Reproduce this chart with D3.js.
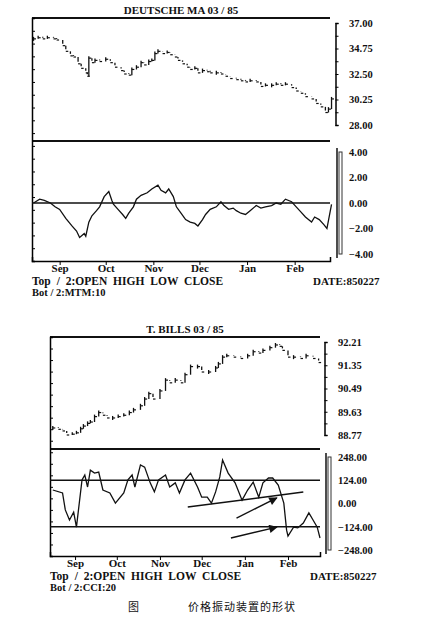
<!DOCTYPE html>
<html><head><meta charset="utf-8">
<script src="https://cdn.jsdelivr.net/npm/d3@7"></script>
<style>
body{margin:0;background:#fff;}
text{font-family:"Liberation Serif",serif;fill:#111;}
</style></head>
<body><svg id="chart"></svg>
<script>
// days counted from 1984-08-14
let dmDays = [1,4,7,10,14,16,20,22,25,27,30,32,35,36,37,39,41,44,48,51,54,58,60,63,65,68,71,73,76,78,80,82,85,88,90,93,95,98,101,103,106,108,111,114,116,120,123,126,129,133,136,139,142,146,149,152,156,159,162,165,169,172,175,178,182,185,188,191,193,195];
let dmClose = [35.6,35.7,35.6,35.7,35.6,35.5,35.0,34.5,34.1,34.0,33.4,33.0,32.6,32.3,33.9,33.5,33.7,33.6,33.8,33.5,33.1,32.8,32.5,32.4,32.9,33.1,33.5,33.3,33.6,33.7,34.3,34.5,34.3,34.4,34.2,34.0,33.7,33.4,33.1,32.9,33.0,32.6,32.8,32.7,32.6,32.6,32.5,32.3,32.1,32.0,31.9,31.8,31.9,31.8,31.4,31.5,31.5,31.6,31.5,31.6,31.3,31.0,30.8,30.5,30.3,29.9,29.6,29.1,29.4,30.3];
let mtmDays = [1,5,8,12,15,18,22,26,29,31,34,35,37,39,42,44,47,50,52,53,56,59,61,63,66,68,71,75,78,82,84,87,89,92,94,97,100,103,106,108,111,113,116,120,123,125,128,131,133,136,139,142,146,149,152,156,159,162,165,169,172,175,178,182,184,187,190,192,195];
let mtmVals = [0,0.3,0.2,0,-0.3,-0.5,-1.2,-1.8,-2.2,-2.7,-2.4,-2.6,-1.5,-1.0,-0.6,-0.3,0.5,0.9,0.2,-0.1,-0.5,-0.9,-1.2,-0.8,-0.3,0.3,0.6,0.8,1.1,1.4,1.0,0.8,1.1,0.5,-0.3,-0.8,-1.3,-1.5,-1.6,-1.8,-1.3,-0.9,-0.5,-0.3,0.1,-0.2,-0.5,-0.4,-0.6,-0.8,-0.9,-0.6,-0.2,-0.4,-0.3,-0.2,0.0,-0.1,0.3,0.1,-0.3,-0.7,-1.1,-1.5,-1.1,-1.3,-1.7,-2.0,-0.1];
let dmTicks = [37.00,34.75,32.50,30.25,28.00];
let mtmTicks = [4,2,0,-2,-4];

let tbDays = [2,6,9,12,16,19,22,24,27,29,32,35,38,41,45,49,53,57,60,65,68,71,74,79,83,86,90,94,97,101,106,109,114,119,121,124,127,132,137,142,146,150,153,158,162,165,167,171,175,180,184,189,193];
let tbClose = [89.03,88.98,88.92,88.77,88.80,88.85,89.0,89.1,89.2,89.25,89.45,89.6,89.5,89.4,89.4,89.45,89.5,89.6,89.7,89.85,90.1,90.3,90.1,90.4,90.8,90.7,90.8,90.7,91.0,91.3,91.3,91.1,91.1,91.25,91.4,91.65,91.7,91.65,91.6,91.7,91.85,91.8,91.9,92.0,92.1,92.05,91.9,91.65,91.65,91.6,91.7,91.6,91.45];
let cciDays = [2,9,11,14,17,19,23,25,27,29,32,35,38,43,47,53,56,59,61,65,68,72,75,78,83,86,90,93,97,101,106,109,113,116,119,122,124,128,133,138,142,146,150,153,157,160,164,168,170,171,175,178,182,186,189,192,194];
let cciVals = [72,56,-34,-88,-46,-126,126,152,88,178,162,168,72,56,2,56,126,152,88,206,194,110,62,126,152,88,110,56,126,162,88,34,34,2,62,142,232,162,110,18,72,114,34,110,136,136,98,2,-142,-174,-126,-130,-104,-50,-88,-126,-184];
let tbTicks = [92.21,91.35,90.49,89.63,88.77];
let cciTicks = [248,124,0,-124,-248];

let months = ["Sep","Oct","Nov","Dec","Jan","Feb"];
let monthDates = [new Date(1984,8,1),new Date(1984,9,1),new Date(1984,10,1),new Date(1984,11,1),new Date(1985,0,1),new Date(1985,1,1)];

let w = 445, h = 620;
let start = new Date(1984,7,14);
let toDate = (d) => new Date(start.getTime() + d * 86400000);

let svg = d3.select("#chart").attr("width", w).attr("height", h);

function panel(o) {
  let g = svg.append("g");
  let x = d3.scaleTime().domain([start, new Date(1985,1,24)]).range([o.x0, o.x1]);
  let yTop = d3.scaleLinear().domain([o.topTicks[4], o.topTicks[0]]).range([o.topB, o.topT]);
  let yBot = d3.scaleLinear().domain([o.botTicks[4], o.botTicks[0]]).range([o.botB, o.botT]);

  g.append("text").attr("x", (o.x0 + o.x1) / 2).attr("y", o.frameTop - 4)
    .attr("text-anchor", "middle").attr("font-size", 11).attr("font-weight", "bold").text(o.title);

  // frame lines
  [o.frameTop, o.divider].forEach(yy => {
    g.append("line").attr("x1", o.x0).attr("x2", o.x1).attr("y1", yy).attr("y2", yy)
      .attr("stroke", "#111").attr("stroke-width", 2);
  });

  // left border with ticks
  let leftAxis = d3.axisLeft(d3.scaleLinear().domain([0, 19]).range([o.frameBot, o.frameTop]))
    .ticks(19).tickSize(-3).tickFormat("");
  g.append("g").attr("transform", `translate(${o.x0},0)`).call(leftAxis)
    .call(a => a.select(".domain").attr("stroke-width", 1.5));

  // right axes
  let rTop = d3.axisRight(yTop).tickValues(o.topTicks).tickSize(0).tickPadding(12).tickFormat(d3.format(".2f"));
  let rBot = d3.axisRight(yBot).tickValues(o.botTicks).tickSize(0).tickPadding(12).tickFormat(d3.format(".2f"));
  let minorTop = d3.axisRight(yTop).tickValues(d3.range(9).map(i => o.topTicks[4] + i * (o.topTicks[0] - o.topTicks[4]) / 8)).tickSize(3).tickFormat("");
  [rTop, rBot].forEach((ax, i) => {
    let a = g.append("g").attr("transform", `translate(${o.rx},0)`).call(ax);
    a.select(".domain").remove();
    a.selectAll("text").attr("font-size", 10.5).attr("font-weight", "bold");
  });
  g.append("g").attr("transform", `translate(${o.rx - 1.5},0)`).call(minorTop)
    .call(a => a.select(".domain").attr("stroke-width", 1.5));
  g.append("line").attr("x1", o.rx).attr("x2", o.rx).attr("y1", o.botT - 4).attr("y2", o.botB + 4)
    .attr("stroke", "#111").attr("stroke-width", 1.5);
  g.append("rect").attr("x", o.rx + 2).attr("y", o.botT).attr("width", 3).attr("height", o.botB - o.botT)
    .attr("fill", "none").attr("stroke", "#333").attr("stroke-width", 1);

  // bottom axis
  let bx = d3.axisBottom(x).tickValues(monthDates).tickSize(-4).tickPadding(3).tickFormat((d, i) => months[i]);
  let ba = g.append("g").attr("transform", `translate(0,${o.frameBot})`).call(bx);
  ba.select(".domain").attr("stroke-width", 1.5);
  ba.selectAll("text").attr("font-size", 11).attr("font-weight", "bold");
  ba.selectAll(".tick line").attr("transform", "translate(0,4)");

  // price bars: previous close to close, with close tick
  o.days.forEach((d, i) => {
    let prev = i ? o.close[i - 1] : o.close[i];
    let px = x(toDate(d));
    g.append("line").attr("x1", px).attr("x2", px)
      .attr("y1", yTop(prev) + (prev === o.close[i] ? 2 : 0)).attr("y2", yTop(o.close[i]) - 2)
      .attr("stroke", "#111").attr("stroke-width", 1.3);
    g.append("line").attr("x1", px).attr("x2", px + 2.5).attr("y1", yTop(o.close[i])).attr("y2", yTop(o.close[i]))
      .attr("stroke", "#111").attr("stroke-width", 1.2);
  });

  // reference lines in oscillator panel
  o.refs.forEach(r => {
    g.append("line").attr("x1", o.x0).attr("x2", o.x1).attr("y1", yBot(r)).attr("y2", yBot(r))
      .attr("stroke", "#111").attr("stroke-width", 1.6);
  });

  let line = d3.line().x((d, i) => x(toDate(o.oscDays[i]))).y(d => yBot(d));
  g.append("path").datum(o.osc).attr("d", line).attr("fill", "none").attr("stroke", "#111").attr("stroke-width", 1.3);

  g.append("text").attr("x", o.x0).attr("y", o.frameBot + 24).attr("font-size", 11.5).attr("font-weight", "bold")
    .attr("word-spacing", 3).text("Top / 2:OPEN HIGH LOW CLOSE");
  g.append("text").attr("x", o.x0).attr("y", o.frameBot + 35).attr("font-size", 10.5).attr("font-weight", "bold").text(o.bot);
  g.append("text").attr("x", o.dateX).attr("y", o.frameBot + 24).attr("font-size", 11).attr("font-weight", "bold").text("DATE:850227");
  return {x: x, yBot: yBot, g: g};
}

panel({title: "DEUTSCHE MA 03 / 85", x0: 32, x1: 330, rx: 337, frameTop: 18, divider: 141, frameBot: 261,
  topT: 23, topB: 125, botT: 152, botB: 254, topTicks: dmTicks, botTicks: mtmTicks,
  days: dmDays, close: dmClose, oscDays: mtmDays, osc: mtmVals, refs: [0], bot: "Bot / 2:MTM:10", dateX: 313});

let p2 = panel({title: "T. BILLS  03 / 85", x0: 50, x1: 320, rx: 326, frameTop: 337, divider: 449, frameBot: 556,
  topT: 342, topB: 435, botT: 457, botB: 550, topTicks: tbTicks, botTicks: cciTicks,
  days: tbDays, close: tbClose, oscDays: cciDays, osc: cciVals, refs: [124, -124], bot: "Bot / 2:CCI:20", dateX: 310});

// annotations: trend line and arrows
let trend = [[99, -19], [182, 61]];
let arrows = [[[134, -78], [163, 30]], [[130, -184], [163, -126]]];
let ax = (p) => p2.x(toDate(p[0])), ay = (p) => p2.yBot(p[1]);
svg.append("defs").append("marker").attr("id", "ah").attr("viewBox", "0 0 10 10").attr("refX", 9).attr("refY", 5)
  .attr("markerWidth", 9).attr("markerHeight", 6).attr("orient", "auto")
  .append("path").attr("d", "M0,0L10,5L0,10z").attr("fill", "#111");
svg.append("line").attr("x1", ax(trend[0])).attr("y1", ay(trend[0])).attr("x2", ax(trend[1])).attr("y2", ay(trend[1]))
  .attr("stroke", "#111").attr("stroke-width", 1.4);
arrows.forEach(a => {
  svg.append("line").attr("x1", ax(a[0])).attr("y1", ay(a[0])).attr("x2", ax(a[1])).attr("y2", ay(a[1]))
    .attr("stroke", "#111").attr("stroke-width", 1.4).attr("marker-end", "url(#ah)");
});

svg.append("text").attr("x", 128).attr("y", 611).attr("font-size", 11)
  .style("font-family", "'Noto Sans CJK SC'").text("图");
svg.append("text").attr("x", 188).attr("y", 611).attr("font-size", 11).attr("letter-spacing", 1)
  .style("font-family", "'Noto Sans CJK SC'").text("价格振动装置的形状");
</script></body></html>
